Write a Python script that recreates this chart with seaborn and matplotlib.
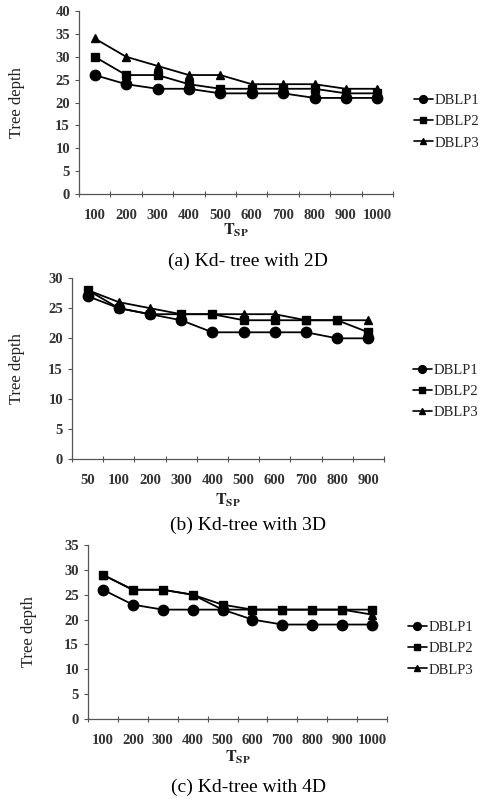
import matplotlib
matplotlib.use("Agg")
import matplotlib.pyplot as plt
import numpy as np
import pandas as pd
import seaborn as sns

series = ["DBLP1", "DBLP2", "DBLP3"]

# (a) Kd-tree with 2D
tsp_a = ["100", "200", "300", "400", "500", "600", "700", "800", "900", "1000"]
a_dblp1 = [26, 24, 23, 23, 22, 22, 22, 21, 21, 21]
a_dblp2 = [30, 26, 26, 24, 23, 23, 23, 23, 22, 22]
a_dblp3 = [34, 30, 28, 26, 26, 24, 24, 24, 23, 23]

# (b) Kd-tree with 3D
tsp_b = ["50", "100", "200", "300", "400", "500", "600", "700", "800", "900"]
b_dblp1 = [27, 25, 24, 23, 21, 21, 21, 21, 20, 20]
b_dblp2 = [28, 25, 24, 24, 24, 23, 23, 23, 23, 21]
b_dblp3 = [28, 26, 25, 24, 24, 24, 24, 23, 23, 23]

# (c) Kd-tree with 4D
tsp_c = ["100", "200", "300", "400", "500", "600", "700", "800", "900", "1000"]
c_dblp1 = [26, 23, 22, 22, 22, 20, 19, 19, 19, 19]
c_dblp2 = [29, 26, 26, 25, 23, 22, 22, 22, 22, 22]
c_dblp3 = [29, 26, 26, 25, 22, 22, 22, 22, 22, 21]

panels = [
    dict(tsp=tsp_a, vals=[a_dblp1, a_dblp2, a_dblp3], ymax=40, caption="(a) Kd- tree with 2D",
         rect=[79, 11, 393, 194], ylab_x=25, leg=(408, 88), tsp_y=230, cap_y=261),
    dict(tsp=tsp_b, vals=[b_dblp1, b_dblp2, b_dblp3], ymax=30, caption="(b) Kd-tree with 3D",
         rect=[72, 278, 384, 459], ylab_x=25, leg=(407, 358), tsp_y=500, cap_y=525),
    dict(tsp=tsp_c, vals=[c_dblp1, c_dblp2, c_dblp3], ymax=35, caption="(c) Kd-tree with 4D",
         rect=[88, 545, 387, 719], ylab_x=37, leg=(402, 615), tsp_y=757, cap_y=787),
]

W, H = 486, 802
sns.set_theme(style="white")
plt.rcParams["font.family"] = ["Liberation Serif", "DejaVu Serif"]
plt.rcParams["mathtext.fontset"] = "stix"

fig = plt.figure(figsize=(W / 100, H / 100), dpi=100)
markers = ["o", "s", "^"]
msizes = [7.5, 6, 6.5]

for p in panels:
    x0, y0, x1, y1 = p["rect"]
    ax = fig.add_axes([x0 / W, 1 - y1 / H, (x1 - x0) / W, (y1 - y0) / H])
    df = pd.DataFrame({
        "tsp": np.tile(p["tsp"], 3),
        "depth": np.concatenate(p["vals"]),
        "series": np.repeat(series, len(p["tsp"])),
    })
    sns.pointplot(data=df, x="tsp", y="depth", hue="series", order=p["tsp"],
                  palette=["black"] * 3, markers=markers, linestyles="-",
                  linewidth=1.3, markersize=6, ax=ax, legend=False)
    for line, ms in zip(ax.lines, msizes):
        line.set_markersize(ms)

    n = len(p["tsp"])
    ax.set_xlim(-0.5, n - 0.5)
    ax.set_ylim(0, p["ymax"])
    ax.set_yticks(np.arange(0, p["ymax"] + 1, 5))
    ax.set_xticks(np.arange(-0.5, n, 1), minor=True)
    ax.tick_params(axis="x", which="major", length=0, pad=11, labelsize=10.5)
    ax.tick_params(axis="x", which="minor", length=4, width=0.8, color="#555555",
                   direction="inout", bottom=True)
    ax.tick_params(axis="y", length=3, width=0.8, color="#555555", left=True, labelsize=10.5)
    for lab in ax.get_xticklabels() + ax.get_yticklabels():
        lab.set_fontweight("bold")
        lab.set_color("#333333")
    sns.despine(ax=ax)
    for s in ["left", "bottom"]:
        ax.spines[s].set_color("#555555")
        ax.spines[s].set_linewidth(0.9)
    ax.set_xlabel("")
    ax.set_ylabel("Tree depth", fontsize=12, color="#222222")
    ax.yaxis.set_label_coords((p["ylab_x"] - x0) / (x1 - x0), 0.5)

    fig.text((x0 + x1) / 2 / W, 1 - p["tsp_y"] / H, r"$\mathbf{T}_{\mathbf{SP}}$",
             ha="center", va="center", fontsize=11.5, color="#222222")
    fig.text(248 / W, 1 - p["cap_y"] / H, p["caption"], ha="center", va="center",
             fontsize=14, color="black")

    handles = [plt.Line2D([], [], color="black", marker=m, markersize=ms * 0.75, linewidth=1.2)
               for m, ms in zip(markers, msizes)]
    lx, ly = p["leg"]
    ax.legend(handles, series, loc="upper left", bbox_to_anchor=(lx / W, 1 - ly / H),
              bbox_transform=fig.transFigure, frameon=False, fontsize=10.5,
              handlelength=1.3, handletextpad=0.1, labelspacing=0.55, borderaxespad=0)

fig.savefig("out.png", dpi=100)
